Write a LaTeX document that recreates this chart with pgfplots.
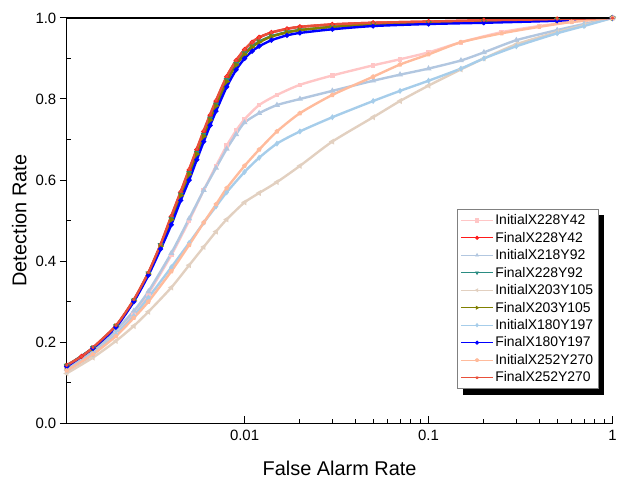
\documentclass[border=0pt]{standalone}
\usepackage{pgfplots}
\pgfplotsset{compat=1.18}
\usepackage{fontspec}
\setmainfont{Liberation Sans}
\pgfdeclarelayer{background}
\pgfsetlayers{background,main}
\definecolor{cPinkI}{HTML}{FFC6C6}
\definecolor{cRedF}{HTML}{FF1A1A}
\definecolor{cSteelI}{HTML}{B2C7E0}
\definecolor{cTealF}{HTML}{2A8C82}
\definecolor{cBeigeI}{HTML}{E2D0C0}
\definecolor{cOliveF}{HTML}{808000}
\definecolor{cLBlueI}{HTML}{A6CDEA}
\definecolor{cBlueF}{HTML}{0000FF}
\definecolor{cSalmonI}{HTML}{FFBB9C}
\definecolor{cTomatoF}{HTML}{E8503A}
\begin{document}
\begin{tikzpicture}
\begin{axis}[
  scale only axis,
  width=548pt, height=407pt,
  xmode=log,
  xmin=0.00108, xmax=1.0, ymin=0, ymax=1,
  axis x line*=bottom, axis y line*=left,
  axis line style={line width=1.4pt, black},
  xtick={0.01,0.1,1}, xticklabels={0.01,0.1,1},
  ytick={0,0.2,0.4,0.6,0.8,1.0},
  minor ytick={0.1,0.3,0.5,0.7,0.9},
  xtick align=inside, ytick align=outside,
  major tick length=7pt, minor tick length=4pt,
  tick style={black, line width=1pt},
  minor y tick style={xshift=4pt},
  /pgf/number format/assume math mode=true,
  yticklabel style={/pgf/number format/.cd, fixed, fixed zerofill, precision=1},
  ticklabel style={font=\fontsize{15}{18}\selectfont},
  xticklabel style={yshift=-3pt},
  label style={font=\fontsize{20}{24}\selectfont},
  xlabel={False Alarm Rate}, ylabel={Detection Rate},
  xlabel style={yshift=-14pt},
  ylabel style={yshift=2pt},
  every axis plot/.append style={line width=2.4pt, mark size=1.1pt, smooth, tension=0.4},
  legend cell align=left,
  legend style={name=lgd, at={(rel axis cs:0.974,0.528)}, anchor=north east,
    draw=gray, line width=0.6pt, fill=white,
    font=\fontsize{14}{16.5}\selectfont,
    row sep=1.9pt, inner xsep=3pt, inner ysep=3pt},
  legend image code/.code={\draw[line width=0.8pt, mark repeat=2, mark phase=2, mark size=1.6pt] plot coordinates {(0pt,0pt) (16pt,0pt) (32pt,0pt)};},
]
% InitialX228Y42
\addplot[color=cPinkI, mark=square*] coordinates {
(0.00108,0.135) (0.0015,0.176) (0.002,0.226) (0.0025,0.272) (0.003,0.32) (0.004,0.415) (0.005,0.5) (0.006,0.575) (0.007,0.635) (0.008,0.685) (0.009,0.722) (0.01,0.75) (0.012,0.785) (0.015,0.81) (0.02,0.835) (0.03,0.858) (0.05,0.883) (0.07,0.898) (0.1,0.915) (0.15,0.94) (0.25,0.965) (0.4,0.98) (0.6,0.99) (1,1.0)};
\addlegendentry{InitialX228Y42}
% FinalX228Y42
\addplot[color=cRedF, mark=*] coordinates {
(0.00108,0.143) (0.0013,0.165) (0.0015,0.186) (0.002,0.24) (0.0025,0.303) (0.003,0.37) (0.0035,0.44) (0.004,0.51) (0.0045,0.57) (0.005,0.625) (0.0055,0.675) (0.006,0.72) (0.0065,0.76) (0.007,0.795) (0.008,0.855) (0.009,0.895) (0.01,0.922) (0.011,0.94) (0.012,0.952) (0.014,0.964) (0.017,0.973) (0.02,0.978) (0.03,0.984) (0.05,0.988) (0.1,0.991) (0.2,0.994) (0.5,0.997) (1,1.0)};
\addlegendentry{FinalX228Y42}
% InitialX218Y92
\addplot[color=cSteelI, mark=triangle*] coordinates {
(0.00108,0.135) (0.0015,0.178) (0.002,0.23) (0.0025,0.277) (0.003,0.325) (0.004,0.42) (0.005,0.505) (0.006,0.575) (0.007,0.63) (0.008,0.677) (0.009,0.713) (0.01,0.742) (0.012,0.765) (0.015,0.785) (0.02,0.80) (0.03,0.82) (0.05,0.845) (0.07,0.86) (0.1,0.875) (0.15,0.895) (0.2,0.915) (0.3,0.945) (0.5,0.97) (0.7,0.985) (1,1.0)};
\addlegendentry{InitialX218Y92}
% FinalX228Y92
\addplot[color=cTealF, mark=triangle*, mark options={rotate=180}] coordinates {
(0.00108,0.142) (0.0015,0.186) (0.002,0.24) (0.0025,0.303) (0.003,0.37) (0.0035,0.44) (0.004,0.505) (0.0045,0.565) (0.005,0.618) (0.0055,0.668) (0.006,0.712) (0.0065,0.752) (0.007,0.787) (0.008,0.847) (0.009,0.887) (0.01,0.913) (0.011,0.93) (0.012,0.942) (0.014,0.955) (0.017,0.965) (0.02,0.97) (0.03,0.978) (0.05,0.984) (0.1,0.988) (0.2,0.991) (0.5,0.995) (1,1.0)};
\addlegendentry{FinalX228Y92}
% InitialX203Y105
\addplot[color=cBeigeI, mark=triangle*, mark options={rotate=90}] coordinates {
(0.00108,0.123) (0.0015,0.162) (0.002,0.203) (0.0025,0.24) (0.003,0.275) (0.004,0.335) (0.005,0.39) (0.006,0.435) (0.007,0.473) (0.008,0.503) (0.01,0.545) (0.012,0.568) (0.015,0.595) (0.02,0.635) (0.03,0.695) (0.05,0.755) (0.07,0.795) (0.1,0.833) (0.15,0.873) (0.2,0.9) (0.3,0.935) (0.5,0.965) (0.7,0.982) (1,1.0)};
\addlegendentry{InitialX203Y105}
% FinalX203Y105
\addplot[color=cOliveF, mark=triangle*, mark options={rotate=-90}] coordinates {
(0.00108,0.141) (0.0015,0.185) (0.002,0.239) (0.0025,0.302) (0.003,0.368) (0.0035,0.437) (0.004,0.502) (0.0045,0.562) (0.005,0.614) (0.0055,0.664) (0.006,0.708) (0.0065,0.748) (0.007,0.783) (0.008,0.843) (0.009,0.884) (0.01,0.91) (0.011,0.928) (0.012,0.94) (0.014,0.954) (0.017,0.964) (0.02,0.97) (0.03,0.978) (0.05,0.984) (0.1,0.988) (0.2,0.991) (0.5,0.995) (1,1.0)};
\addlegendentry{FinalX203Y105}
% InitialX180Y197
\addplot[color=cLBlueI, mark=diamond*] coordinates {
(0.00108,0.13) (0.0015,0.17) (0.002,0.22) (0.0025,0.265) (0.003,0.31) (0.004,0.385) (0.005,0.445) (0.006,0.495) (0.007,0.535) (0.008,0.57) (0.01,0.62) (0.012,0.655) (0.015,0.69) (0.02,0.72) (0.03,0.755) (0.05,0.795) (0.07,0.82) (0.1,0.845) (0.15,0.875) (0.2,0.9) (0.3,0.93) (0.5,0.962) (0.7,0.98) (1,1.0)};
\addlegendentry{InitialX180Y197}
% FinalX180Y197
\addplot[color=cBlueF, mark=*] coordinates {
(0.00108,0.14) (0.0015,0.185) (0.002,0.237) (0.0025,0.30) (0.003,0.365) (0.0035,0.43) (0.004,0.49) (0.0045,0.55) (0.005,0.60) (0.0055,0.65) (0.006,0.695) (0.0065,0.735) (0.007,0.77) (0.008,0.83) (0.009,0.872) (0.01,0.9) (0.011,0.918) (0.012,0.93) (0.014,0.945) (0.017,0.957) (0.02,0.963) (0.03,0.972) (0.05,0.98) (0.1,0.985) (0.2,0.988) (0.5,0.993) (1,1.0)};
\addlegendentry{FinalX180Y197}
% InitialX252Y270
\addplot[color=cSalmonI, mark=pentagon*] coordinates {
(0.00108,0.13) (0.0015,0.17) (0.002,0.215) (0.0025,0.26) (0.003,0.30) (0.004,0.375) (0.005,0.44) (0.006,0.495) (0.007,0.54) (0.008,0.58) (0.01,0.635) (0.012,0.675) (0.015,0.72) (0.02,0.765) (0.03,0.81) (0.05,0.855) (0.07,0.885) (0.1,0.91) (0.15,0.94) (0.25,0.962) (0.4,0.978) (0.6,0.99) (1,1.0)};
\addlegendentry{InitialX252Y270}
% FinalX252Y270
\addplot[color=cTomatoF, mark=star] coordinates {
(0.00108,0.143) (0.0013,0.165) (0.0015,0.187) (0.002,0.241) (0.0025,0.305) (0.003,0.372) (0.0035,0.442) (0.004,0.512) (0.0045,0.572) (0.005,0.627) (0.0055,0.677) (0.006,0.722) (0.0065,0.762) (0.007,0.797) (0.008,0.856) (0.009,0.895) (0.01,0.922) (0.011,0.94) (0.012,0.952) (0.014,0.964) (0.017,0.973) (0.02,0.978) (0.03,0.984) (0.05,0.988) (0.1,0.991) (0.2,0.994) (0.5,0.997) (1,1.0)};
\addlegendentry{FinalX252Y270}
\draw[line width=1.4pt, black] (rel axis cs:0,1) -- (rel axis cs:1,1);
\end{axis}
\begin{pgfonlayer}{background}
\fill[black] ([xshift=6pt,yshift=-6pt]lgd.south west) rectangle ([xshift=6pt,yshift=-6pt]lgd.north east);
\end{pgfonlayer}
\path (current axis.south west) ++(-67pt,-56pt);
\path (current axis.north east) ++(5pt,18pt);
\end{tikzpicture}
\end{document}
